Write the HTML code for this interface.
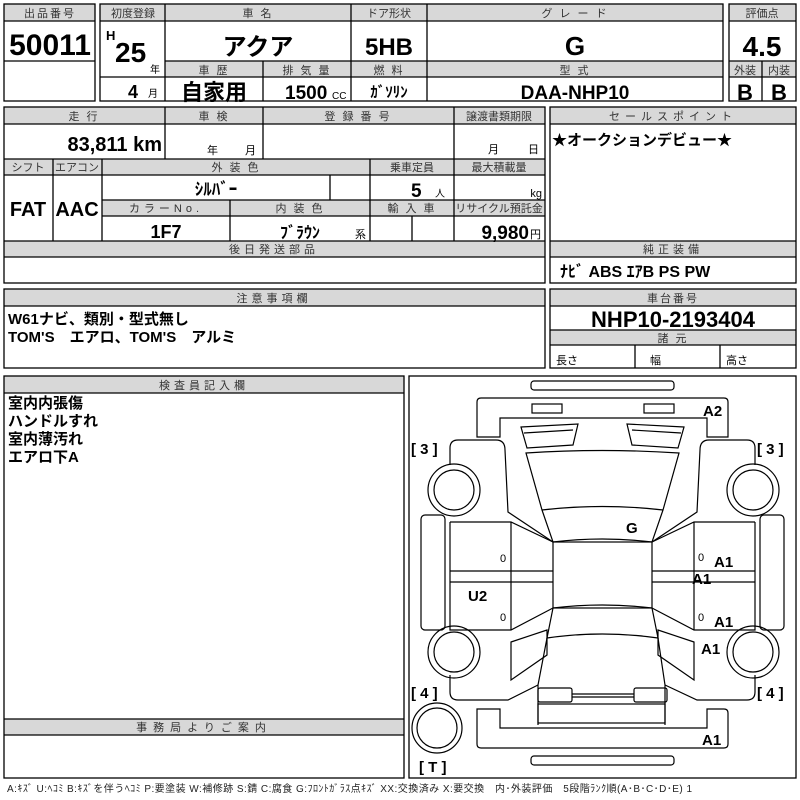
<!DOCTYPE html>
<html><head><meta charset="utf-8"><style>
html,body{margin:0;padding:0;background:#fff;width:800px;height:800px;overflow:hidden}
svg{display:block}
.h{fill:#d8d8d8}
.ln{stroke:#000;stroke-width:1.3;fill:none}
text{font-family:"Liberation Sans","Noto Sans CJK JP",sans-serif}
.hd{font-size:11px;fill:#333;text-anchor:middle;letter-spacing:2px}
.n{letter-spacing:0}
.v{font-weight:bold;fill:#000}
.c{text-anchor:middle}
.d{stroke:#000;stroke-width:1.2;fill:none}
.lb{font-size:15px;font-weight:bold;fill:#000}
</style></head><body>
<svg width="800" height="800" viewBox="0 0 800 800" xmlns="http://www.w3.org/2000/svg">
<!-- block 1 -->
<rect class="h" x="4" y="4" width="91" height="17"/>
<rect class="ln" x="4" y="4" width="91" height="97"/>
<line class="ln" x1="4" y1="21" x2="95" y2="21"/><line class="ln" x1="4" y1="61" x2="95" y2="61"/>
<text class="hd" x="50" y="17">出品番号</text>
<text class="v c" x="50" y="55" font-size="30">50011</text>

<rect class="h" x="100" y="4" width="623" height="17"/>
<rect class="h" x="165" y="61" width="558" height="16"/>
<rect class="ln" x="100" y="4" width="623" height="97"/>
<line class="ln" x1="100" y1="21" x2="723" y2="21"/>
<line class="ln" x1="165" y1="61" x2="723" y2="61"/>
<line class="ln" x1="165" y1="77" x2="723" y2="77"/>
<line class="ln" x1="100" y1="77" x2="165" y2="77"/>
<line class="ln" x1="165" y1="4" x2="165" y2="101"/>
<line class="ln" x1="351" y1="4" x2="351" y2="101"/>
<line class="ln" x1="427" y1="4" x2="427" y2="101"/>
<line class="ln" x1="263" y1="61" x2="263" y2="101"/>
<text class="hd n" x="133" y="17">初度登録</text>
<text class="hd" x="258" y="17">車 名</text>
<text class="hd n" x="389" y="17">ドア形状</text>
<text class="hd" x="575" y="17">グ レ ー ド</text>
<text class="hd" x="214" y="74">車 歴</text>
<text class="hd" x="307" y="74">排 気 量</text>
<text class="hd" x="389" y="74">燃 料</text>
<text class="hd" x="575" y="74">型 式</text>
<text class="v" x="106" y="40" font-size="13">H</text>
<text class="v" x="115" y="62" font-size="28">25</text>
<text x="150" y="73" font-size="10">年</text>
<text class="v" x="128" y="98" font-size="18">4</text>
<text x="148" y="97" font-size="10">月</text>
<text class="v c" x="258" y="55" font-size="24">アクア</text>
<text class="v c" x="389" y="55" font-size="24">5HB</text>
<text class="v c" x="575" y="55" font-size="26">G</text>
<text class="v c" x="214" y="100" font-size="22">自家用</text>
<text class="v" x="285" y="99" font-size="19">1500</text>
<text x="332" y="99" font-size="10">CC</text>
<text class="v c" x="389" y="97" font-size="15">ｶﾞｿﾘﾝ</text>
<text class="v c" x="575" y="99" font-size="19">DAA-NHP10</text>

<rect class="h" x="729" y="4" width="67" height="17"/>
<rect class="h" x="729" y="61" width="67" height="16"/>
<rect class="ln" x="729" y="4" width="67" height="97"/>
<line class="ln" x1="729" y1="21" x2="796" y2="21"/>
<line class="ln" x1="729" y1="61" x2="796" y2="61"/>
<line class="ln" x1="729" y1="77" x2="796" y2="77"/>
<line class="ln" x1="762" y1="61" x2="762" y2="101"/>
<text class="hd n" x="762" y="17">評価点</text>
<text class="hd n" x="745" y="74">外装</text>
<text class="hd n" x="779" y="74">内装</text>
<text class="v c" x="762" y="56" font-size="28">4.5</text>
<text class="v c" x="745" y="100" font-size="22">B</text>
<text class="v c" x="779" y="100" font-size="22">B</text>

<!-- block 2 -->
<rect class="h" x="4" y="107" width="541" height="17"/>
<rect class="h" x="4" y="159" width="541" height="16"/>
<rect class="h" x="102" y="200" width="443" height="16"/>
<rect class="h" x="4" y="241" width="541" height="16"/>
<rect class="ln" x="4" y="107" width="541" height="176"/>
<line class="ln" x1="4" y1="124" x2="545" y2="124"/>
<line class="ln" x1="4" y1="159" x2="545" y2="159"/>
<line class="ln" x1="4" y1="175" x2="545" y2="175"/>
<line class="ln" x1="102" y1="200" x2="545" y2="200"/>
<line class="ln" x1="102" y1="216" x2="545" y2="216"/>
<line class="ln" x1="4" y1="241" x2="545" y2="241"/>
<line class="ln" x1="4" y1="257" x2="545" y2="257"/>
<line class="ln" x1="165" y1="107" x2="165" y2="159"/>
<line class="ln" x1="263" y1="107" x2="263" y2="159"/>
<line class="ln" x1="454" y1="107" x2="454" y2="241"/>
<line class="ln" x1="53" y1="159" x2="53" y2="241"/>
<line class="ln" x1="102" y1="159" x2="102" y2="241"/>
<line class="ln" x1="370" y1="159" x2="370" y2="241"/>
<line class="ln" x1="330" y1="175" x2="330" y2="200"/>
<line class="ln" x1="230" y1="200" x2="230" y2="241"/>
<line class="ln" x1="412" y1="216" x2="412" y2="241"/>
<text class="hd" x="84" y="120">走 行</text>
<text class="hd" x="214" y="120">車 検</text>
<text class="hd" x="358" y="120">登 録 番 号</text>
<text class="hd n" x="499" y="120">譲渡書類期限</text>
<text class="hd n" x="28" y="171">シフト</text>
<text class="hd n" x="77" y="171">エアコン</text>
<text class="hd" x="236" y="171">外 装 色</text>
<text class="hd n" x="412" y="171">乗車定員</text>
<text class="hd n" x="499" y="171">最大積載量</text>
<text class="hd" x="166" y="212" style="letter-spacing:4px">カラーNo.</text>
<text class="hd" x="300" y="212">内 装 色</text>
<text class="hd" x="412" y="212">輸 入 車</text>
<text class="hd n" x="499" y="212" font-size="10.5">リサイクル預託金</text>
<text class="hd" x="274" y="253" style="letter-spacing:4px">後日発送部品</text>
<text class="v" x="162" y="151" font-size="20" text-anchor="end">83,811 km</text>
<text x="207" y="154" font-size="11">年</text><text x="245" y="154" font-size="11">月</text>
<text x="488" y="153" font-size="11">月</text><text x="528" y="153" font-size="11">日</text>
<text class="v c" x="28" y="216" font-size="20">FAT</text>
<text class="v c" x="77" y="216" font-size="20">AAC</text>
<text class="v c" x="216" y="195" font-size="17">ｼﾙﾊﾞｰ</text>
<text class="v" x="411" y="197" font-size="19">5</text><text x="435" y="197" font-size="10">人</text>
<text x="542" y="197" font-size="11" text-anchor="end">kg</text>
<text class="v c" x="166" y="238" font-size="18">1F7</text>
<text class="v c" x="300" y="238" font-size="16">ﾌﾞﾗｳﾝ</text>
<text x="355" y="238" font-size="11">系</text>
<text class="v" x="529" y="239" font-size="19" text-anchor="end">9,980</text>
<text x="530" y="238" font-size="11">円</text>

<rect class="h" x="550" y="107" width="246" height="17"/>
<rect class="h" x="550" y="241" width="246" height="16"/>
<rect class="ln" x="550" y="107" width="246" height="176"/>
<line class="ln" x1="550" y1="124" x2="796" y2="124"/>
<line class="ln" x1="550" y1="241" x2="796" y2="241"/>
<line class="ln" x1="550" y1="257" x2="796" y2="257"/>
<text class="hd" x="673" y="120" style="letter-spacing:5px">セールスポイント</text>
<text class="hd" x="673" y="253" style="letter-spacing:4px">純正装備</text>
<text class="v" x="552" y="145" font-size="15">★オークションデビュー★</text>
<text class="v" x="560" y="277" font-size="16">ﾅﾋﾞ ABS ｴｱB PS PW</text>

<!-- block 3 -->
<rect class="h" x="4" y="289" width="541" height="17"/>
<rect class="ln" x="4" y="289" width="541" height="79"/>
<line class="ln" x1="4" y1="306" x2="545" y2="306"/>
<text class="hd" x="274" y="302" style="letter-spacing:4px">注意事項欄</text>
<text class="v" x="8" y="324" font-size="15">W61ナビ、類別・型式無し</text>
<text class="v" x="8" y="342" font-size="15">TOM'S　エアロ、TOM'S　アルミ</text>

<rect class="h" x="550" y="289" width="246" height="17"/>
<rect class="h" x="550" y="330" width="246" height="15"/>
<rect class="ln" x="550" y="289" width="246" height="79"/>
<line class="ln" x1="550" y1="306" x2="796" y2="306"/>
<line class="ln" x1="550" y1="330" x2="796" y2="330"/>
<line class="ln" x1="550" y1="345" x2="796" y2="345"/>
<line class="ln" x1="635" y1="345" x2="635" y2="368"/>
<line class="ln" x1="720" y1="345" x2="720" y2="368"/>
<text class="hd" x="673" y="302">車台番号</text>
<text class="hd" x="673" y="342">諸 元</text>
<text class="v c" x="673" y="327" font-size="22">NHP10-2193404</text>
<text x="556" y="364" font-size="11">長さ</text>
<text x="650" y="364" font-size="11">幅</text>
<text x="726" y="364" font-size="11">高さ</text>

<!-- block 4 -->
<rect class="h" x="4" y="376" width="400" height="17"/>
<rect class="h" x="4" y="719" width="400" height="16"/>
<rect class="ln" x="4" y="376" width="400" height="402"/>
<line class="ln" x1="4" y1="393" x2="404" y2="393"/>
<line class="ln" x1="4" y1="719" x2="404" y2="719"/>
<line class="ln" x1="4" y1="735" x2="404" y2="735"/>
<text class="hd" x="204" y="389" style="letter-spacing:4px">検査員記入欄</text>
<text class="hd" x="204" y="731" style="letter-spacing:6px">事務局よりご案内</text>
<text class="v" x="8" y="408" font-size="15">室内内張傷</text>
<text class="v" x="8" y="426" font-size="15">ハンドルすれ</text>
<text class="v" x="8" y="444" font-size="15">室内薄汚れ</text>
<text class="v" x="8" y="462" font-size="15">エアロ下A</text>

<!-- car diagram -->
<rect class="ln" x="409" y="376" width="387" height="402"/>
<g class="d">
<rect x="531" y="381" width="143" height="9" rx="3"/>
<path d="M477 437 L477 402 Q477 398 481 398 L724 398 Q728 398 728 402 L728 437 L707 437 L707 418 L500 418 L500 437 Z"/>
<rect x="532" y="404" width="30" height="9"/>
<rect x="644" y="404" width="30" height="9"/>
<path d="M521 427 L578 424 L573 445 L527 448 Z M524 433 L573 430"/>
<path d="M684 427 L627 424 L632 445 L678 448 Z M681 433 L632 430"/>
<path d="M526 453 Q602 448 679 453 L663 510 Q602 503 542 510 Z"/>
<path d="M542 510 L553 542 Q602 536 652 542 L663 510"/>
<rect x="553" y="542" width="99" height="66"/>
<path d="M553 608 Q602 602 652 608 L658 638 Q602 630 547 638 Z"/>
<path d="M547 638 L538 685 M658 638 L665 685 L665 725 M538 685 L538 725"/>
<rect x="538" y="688" width="34" height="14" rx="2"/>
<rect x="634" y="688" width="33" height="14" rx="2"/>
<line x1="572" y1="694" x2="634" y2="694"/><line x1="572" y1="697" x2="634" y2="697"/>
<rect x="538" y="704" width="127" height="19"/>
<path d="M477 709 L500 709 L500 728 L707 728 L707 709 L724 709 Q728 709 728 713 L728 744 Q728 748 724 748 L481 748 Q477 748 477 744 Z"/>
<rect x="531" y="756" width="143" height="9" rx="3"/>
<path d="M450 465 L450 448 Q450 440 458 440 L496 440 Q505 440 505 450 L508 512 L553 542"/>
<path d="M450 522 L511 522 L553 542 M450 522 L450 630 L511 630 L553 608"/>
<line x1="511" y1="522" x2="511" y2="630"/>
<line x1="450" y1="571" x2="553" y2="571"/><line x1="450" y1="582" x2="553" y2="582"/>
<rect x="421" y="515" width="24" height="115" rx="4"/>
<circle cx="454" cy="490" r="26"/><circle cx="454" cy="490" r="20"/>
<circle cx="454" cy="652" r="26"/><circle cx="454" cy="652" r="20"/>
<path d="M511 642 L547 630 L547 655 L511 680 Z"/>
<path d="M450 675 L450 692 Q450 700 458 700 L508 700 L538 685"/>
<path d="M755 465 L755 448 Q755 440 747 440 L709 440 Q700 440 700 450 L697 512 L652 542"/>
<path d="M755 522 L694 522 L652 542 M755 522 L755 630 L694 630 L652 608"/>
<line x1="694" y1="522" x2="694" y2="630"/>
<line x1="652" y1="571" x2="755" y2="571"/><line x1="652" y1="582" x2="755" y2="582"/>
<rect x="760" y="515" width="24" height="115" rx="4"/>
<circle cx="753" cy="490" r="26"/><circle cx="753" cy="490" r="20"/>
<circle cx="753" cy="652" r="26"/><circle cx="753" cy="652" r="20"/>
<path d="M694 642 L658 630 L658 655 L694 680 Z"/>
<path d="M755 675 L755 692 Q755 700 747 700 L697 700 L665 685"/>
<circle cx="437" cy="728" r="25"/><circle cx="437" cy="728" r="20"/>
</g>
<g class="lb">
<text x="411" y="454">[ 3 ]</text>
<text x="757" y="454">[ 3 ]</text>
<text x="411" y="698">[ 4 ]</text>
<text x="757" y="698">[ 4 ]</text>
<text x="419" y="772">[ T ]</text>
<text x="703" y="416">A2</text>
<text x="626" y="533">G</text>
<text x="714" y="567">A1</text>
<text x="692" y="584">A1</text>
<text x="468" y="601">U2</text>
<text x="714" y="627">A1</text>
<text x="701" y="654">A1</text>
<text x="702" y="745">A1</text>
</g>
<g font-size="11">
<text x="500" y="562">0</text><text x="500" y="621">0</text>
<text x="698" y="561">0</text><text x="698" y="621">0</text>
</g>
<text x="7" y="792" font-size="10" fill="#222" textLength="685" lengthAdjust="spacing">A:ｷｽﾞ U:ﾍｺﾐ B:ｷｽﾞを伴うﾍｺﾐ P:要塗装 W:補修跡 S:錆 C:腐食 G:ﾌﾛﾝﾄｶﾞﾗｽ点ｷｽﾞ XX:交換済み X:要交換　内･外装評価　5段階ﾗﾝｸ順(A･B･C･D･E) 1</text>
</svg>
</body></html>
